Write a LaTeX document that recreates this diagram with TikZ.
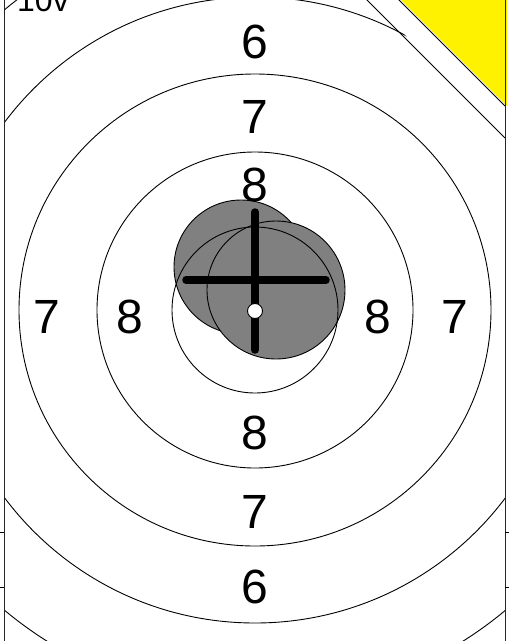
\documentclass[tikz,border=0pt]{standalone}
\usepackage{fontspec}
\setmainfont{Liberation Sans}
\begin{document}
\begin{tikzpicture}[x=1pt,y=-1pt,
  ring/.style={draw=black,line width=0.9pt},
  shot/.style={fill=gray,draw=black,line width=0.9pt},
  num/.style={font=\fontsize{48}{48}\selectfont,inner sep=0pt},
  crossline/.style={line width=7.5pt,line cap=round},
  framelin/.style={draw=black!85,line width=1.5pt},
]
\useasboundingbox (0,0) rectangle (509,641);
\clip (0,0) rectangle (509,641);
\coordinate (c) at (255,310);
% shots
\draw[shot] (241,267) circle (67);
\draw[shot] (276,290) circle (69);
% rings
\begin{scope}
  \clip (4,-2) -- (369,-2) -- (505,138) -- (505,643) -- (4,643) -- cycle;
  \foreach \r in {83,158,236,313,391} {\draw[ring] (c) circle (\r);}
\end{scope}
% corner marker
\fill[yellow] (399,-2) -- (507,106) -- (507,-2) -- cycle;
\draw[line width=1pt] (397,-2) -- (505,106);
\draw[line width=1pt] (365,-2) -- (505,138);
% frame
\draw[framelin] (4.5,-1) -- (4.5,642);
\draw[framelin] (505.5,-1) -- (505.5,642);
\draw[line width=1pt] (0,532) -- (4,532) (0,587) -- (4,587);
\draw[line width=1pt] (505,532) -- (509,532) (505,587) -- (509,587);
% labels
\node[anchor=base west,inner sep=0pt,font=\fontsize{32}{32}\selectfont] (t) at (17,11) {10v};
\node[num] (n6t) at (255,42) {6};
\node[num] (n7t) at (255,117) {7};
\node[num] (n8t) at (255,185) {8};
\node[num] (n8b) at (255,433) {8};
\node[num] (n7b) at (255,512) {7};
\node[num] (n6b) at (255,587) {6};
\node[num] (n7l) at (47,317) {7};
\node[num] (n8l) at (130,317) {8};
\node[num] (n8r) at (378,317) {8};
\node[num] (n7r) at (455,317) {7};
% crosshair
\draw[crossline] (255,212) -- (255,350);
\draw[crossline] (186,280) -- (326,280);
\draw[fill=white,line width=0.9pt] (255,311) circle (7.5);
\end{tikzpicture}
\end{document}
